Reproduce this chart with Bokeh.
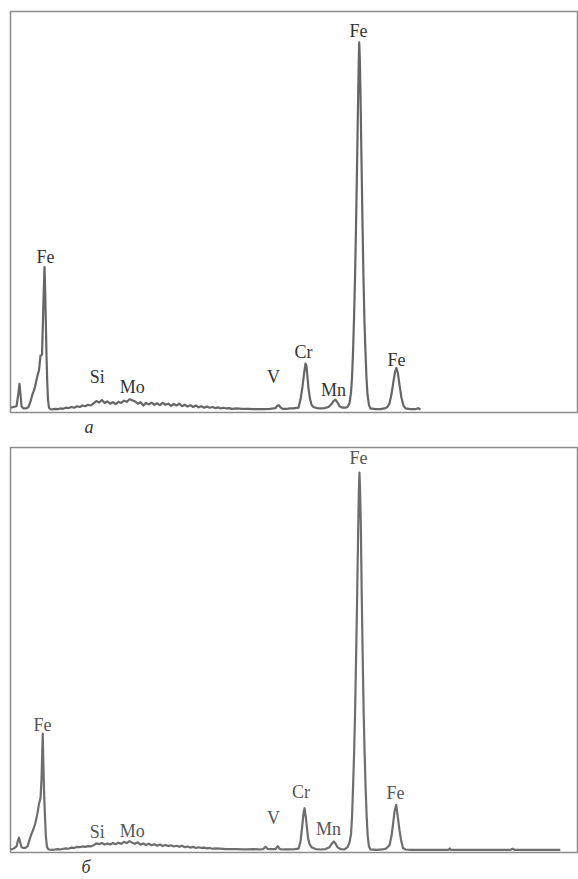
from bokeh.plotting import figure
from bokeh.models import Range1d, ColumnDataSource, Title
from bokeh.layouts import column
from bokeh.embed import file_html
from bokeh.resources import INLINE
from bokeh.core.properties import value

# ---------------- data (energy in keV, intensity relative to Fe K-alpha) ----------------
energy_a = [0.108, 0.162, 0.217, 0.244, 0.271, 0.289, 0.307, 0.343, 0.398, 0.434, 0.470, 0.506,
            0.533, 0.560, 0.596, 0.624, 0.651, 0.678, 0.696, 0.710, 0.723, 0.736, 0.747, 0.759,
            0.772, 0.786, 0.804, 0.832,
            0.86, 0.91, 0.96, 1.01, 1.06, 1.11, 1.16, 1.21, 1.26, 1.31, 1.36, 1.41, 1.46, 1.51,
            1.56, 1.61, 1.66, 1.71, 1.76, 1.81, 1.86, 1.91, 1.96, 2.01, 2.06, 2.11, 2.16, 2.21,
            2.26, 2.31, 2.36, 2.41, 2.46, 2.51, 2.56, 2.61, 2.66, 2.71, 2.76, 2.81, 2.86, 2.91,
            2.96, 3.01, 3.06, 3.11, 3.16, 3.21, 3.26, 3.31, 3.36, 3.41, 3.46, 3.51, 3.56, 3.61,
            3.66, 3.71, 3.76, 3.81, 3.86, 3.91, 3.96, 4.01, 4.06, 4.11, 4.20, 4.30, 4.40, 4.50,
            4.60, 4.70, 4.80, 4.86, 4.90, 4.93, 4.96, 4.99, 5.03, 5.10, 5.16, 5.22,
            5.316, 5.352, 5.388, 5.416, 5.443, 5.461, 5.479, 5.497, 5.524, 5.551, 5.587, 5.642,
            5.714, 5.786, 5.859, 5.913, 5.949, 5.985, 6.022, 6.058, 6.112, 6.166, 6.202, 6.238,
            6.266, 6.284, 6.302, 6.320, 6.338, 6.356, 6.374, 6.392, 6.405, 6.414, 6.424, 6.437,
            6.455, 6.473, 6.491, 6.509, 6.527, 6.545, 6.563, 6.590, 6.617, 6.709, 6.799, 6.871,
            6.925, 6.962, 6.998, 7.034, 7.061, 7.088, 7.115, 7.142, 7.178, 7.214, 7.251, 7.341,
            7.431, 7.485, 7.521]
counts_a = [0.008, 0.010, 0.012, 0.040, 0.073, 0.045, 0.012, 0.006, 0.006, 0.010, 0.025, 0.045,
            0.055, 0.070, 0.095, 0.110, 0.150, 0.152, 0.250, 0.330, 0.390, 0.320, 0.240, 0.150,
            0.080, 0.030, 0.008, 0.004,
            0.003, 0.005, 0.004, 0.006, 0.005, 0.008, 0.007, 0.010, 0.008, 0.012, 0.010, 0.014,
            0.012, 0.016, 0.014, 0.020, 0.026, 0.022, 0.029, 0.021, 0.025, 0.019, 0.023, 0.018,
            0.024, 0.021, 0.027, 0.024, 0.031, 0.028, 0.025, 0.019, 0.023, 0.014, 0.021, 0.017,
            0.022, 0.016, 0.020, 0.015, 0.021, 0.016, 0.019, 0.013, 0.018, 0.014, 0.019, 0.012,
            0.016, 0.011, 0.015, 0.010, 0.014, 0.009, 0.012, 0.008, 0.011, 0.008, 0.010, 0.007,
            0.009, 0.006, 0.008, 0.006, 0.007, 0.005, 0.006, 0.005, 0.005, 0.004, 0.004, 0.004,
            0.005, 0.006, 0.007, 0.013, 0.015, 0.009, 0.005, 0.005, 0.006, 0.006,
            0.008, 0.030, 0.065, 0.100, 0.128, 0.120, 0.090, 0.060, 0.032, 0.016, 0.010, 0.007,
            0.006, 0.007, 0.010, 0.018, 0.026, 0.030, 0.022, 0.012, 0.008, 0.008, 0.010, 0.020,
            0.050, 0.090, 0.160, 0.250, 0.360, 0.500, 0.660, 0.830, 0.950, 1.000, 0.960, 0.860,
            0.680, 0.510, 0.360, 0.240, 0.160, 0.090, 0.045, 0.015, 0.006, 0.004, 0.004, 0.006,
            0.010, 0.020, 0.045, 0.080, 0.105, 0.116, 0.100, 0.070, 0.035, 0.014, 0.006, 0.004,
            0.004, 0.007, 0.003]

energy_b = [0.108, 0.162, 0.217, 0.244, 0.262, 0.280, 0.307, 0.343, 0.379, 0.416, 0.452, 0.488,
            0.524, 0.560, 0.596, 0.624, 0.651, 0.669, 0.682, 0.691, 0.701, 0.714, 0.729, 0.747,
            0.768, 0.795, 0.868,
            0.91, 0.96, 1.01, 1.06, 1.11, 1.16, 1.21, 1.26, 1.31, 1.36, 1.41, 1.46, 1.51, 1.56,
            1.61, 1.66, 1.71, 1.76, 1.81, 1.86, 1.91, 1.96, 2.01, 2.06, 2.11, 2.16, 2.21, 2.26,
            2.31, 2.36, 2.41, 2.46, 2.51, 2.56, 2.61, 2.66, 2.71, 2.76, 2.81, 2.86, 2.91, 2.96,
            3.01, 3.06, 3.11, 3.16, 3.21, 3.26, 3.31, 3.36, 3.41, 3.46, 3.51, 3.56, 3.61, 3.66,
            3.71, 3.76, 3.81, 3.90, 4.00, 4.10, 4.20, 4.30, 4.40, 4.50, 4.60, 4.68, 4.72, 4.76,
            4.90, 4.94, 4.98, 5.05, 5.15, 5.25,
            5.316, 5.352, 5.379, 5.407, 5.425, 5.448, 5.470, 5.488, 5.515, 5.551, 5.624, 5.714,
            5.804, 5.877, 5.922, 5.955, 5.985, 6.022, 6.076, 6.148, 6.202, 6.238,
            6.266, 6.284, 6.298, 6.320, 6.338, 6.356, 6.374, 6.392, 6.407, 6.418, 6.428, 6.443,
            6.459, 6.477, 6.495, 6.513, 6.531, 6.549, 6.567, 6.590, 6.617, 6.727, 6.835, 6.907,
            6.962, 6.998, 7.025, 7.052, 7.083, 7.112, 7.142, 7.169, 7.205, 7.251, 7.341, 7.521,
            8.03, 8.05, 8.07, 9.15, 9.19, 9.22, 10.05]
counts_b = [0.004, 0.006, 0.012, 0.028, 0.035, 0.025, 0.010, 0.008, 0.008, 0.012, 0.030, 0.045,
            0.058, 0.075, 0.100, 0.125, 0.140, 0.190, 0.260, 0.310, 0.240, 0.160, 0.100, 0.040,
            0.010, 0.004, 0.003,
            0.004, 0.005, 0.004, 0.006, 0.007, 0.006, 0.009, 0.008, 0.011, 0.010, 0.012, 0.011,
            0.013, 0.012, 0.015, 0.020, 0.018, 0.021, 0.017, 0.020, 0.017, 0.021, 0.018, 0.022,
            0.019, 0.024, 0.021, 0.026, 0.022, 0.019, 0.023, 0.017, 0.020, 0.016, 0.019, 0.015,
            0.018, 0.014, 0.017, 0.013, 0.016, 0.013, 0.015, 0.012, 0.014, 0.011, 0.014, 0.010,
            0.012, 0.009, 0.011, 0.008, 0.010, 0.008, 0.009, 0.007, 0.008, 0.006, 0.007, 0.006,
            0.005, 0.005, 0.005, 0.004, 0.004, 0.005, 0.004, 0.005, 0.011, 0.005,
            0.005, 0.013, 0.005, 0.004, 0.004, 0.005,
            0.006, 0.025, 0.060, 0.100, 0.113, 0.090, 0.060, 0.035, 0.018, 0.010, 0.005, 0.004,
            0.005, 0.010, 0.020, 0.025, 0.020, 0.010, 0.005, 0.004, 0.010, 0.022,
            0.045, 0.090, 0.150, 0.250, 0.360, 0.500, 0.650, 0.820, 0.950, 1.000, 0.960, 0.860,
            0.680, 0.510, 0.360, 0.250, 0.160, 0.090, 0.040, 0.012, 0.004, 0.003, 0.004, 0.007,
            0.015, 0.040, 0.070, 0.104, 0.122, 0.090, 0.055, 0.030, 0.008, 0.004, 0.003, 0.003,
            0.003, 0.007, 0.003, 0.003, 0.006, 0.003, 0.003]

label_names = ["Fe", "Si", "Mo", "V", "Cr", "Mn", "Fe", "Fe"]
label_e_a = [0.741, 1.676, 2.309, 4.864, 5.407, 5.949, 6.401, 7.088]
label_y_a = [0.418, 0.092, 0.064, 0.091, 0.159, 0.056, 1.030, 0.137]
label_e_b = [0.687, 1.676, 2.309, 4.864, 5.361, 5.859, 6.401, 7.070]
label_y_b = [0.332, 0.050, 0.054, 0.088, 0.155, 0.059, 1.037, 0.152]

panel_letters = ["а", "б"]

x_lo, x_hi = 0.108, 10.361


def make_panel(energy, counts, lx, ly, letter, letter_offset,
               height, top, bottom, y_lo, y_hi, line_color, text_color):
    p = figure(width=578, height=height, output_backend="svg", toolbar_location=None,
               x_axis_type=None, y_axis_type=None,
               x_range=Range1d(x_lo, x_hi), y_range=Range1d(y_lo, y_hi),
               min_border_left=10, min_border_right=1,
               min_border_top=top, min_border_bottom=bottom)
    p.background_fill_color = "white"
    p.border_fill_color = "white"
    p.outline_line_color = "#8c8c8c"
    p.outline_line_width = 1.5
    p.line(energy, counts, line_color=line_color, line_width=2.2, line_join="round")
    src = ColumnDataSource(dict(x=lx, y=ly, text=label_names))
    p.text(x="x", y="y", text="text", source=src,
           text_font=value("Liberation Serif"), text_font_size=value("18px"),
           text_color=text_color, text_align="center", text_baseline="middle")
    p.add_layout(Title(text=letter, align="left", offset=letter_offset, standoff=4,
                       text_font="Liberation Serif", text_font_style="italic",
                       text_font_size="18px", text_color="#333333"), "below")
    return p


p1 = make_panel(energy_a, counts_a, label_e_a, label_y_a, panel_letters[0], 74,
                440, 11, 28, -0.005, 1.084, "#666666", "#333333")
p2 = make_panel(energy_b, counts_b, label_e_b, label_y_b, panel_letters[1], 71,
                439, 7, 27, -0.004, 1.066, "#6e6e6e", "#555555")

layout = column(p1, p2, spacing=0)
open("out.html", "w").write(file_html(layout, INLINE))
